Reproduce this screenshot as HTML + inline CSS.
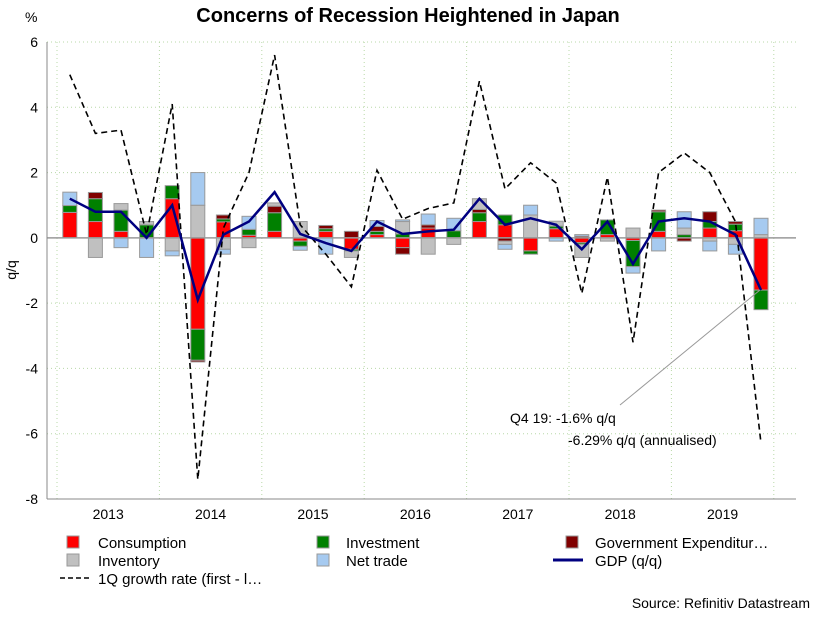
<!DOCTYPE html>
<html><head><meta charset="utf-8"><style>
body{margin:0;background:#fff;font-family:"Liberation Sans",sans-serif;}
svg text{font-family:"Liberation Sans",sans-serif;}
</style></head><body>
<svg id="chart" width="824" height="620" xmlns="http://www.w3.org/2000/svg">
<rect width="824" height="620" fill="#fff"/>
<text x="408" y="22" text-anchor="middle" font-size="20" font-weight="bold">Concerns of Recession Heightened in Japan</text>
<text x="25" y="22" font-size="14">%</text>
<text transform="translate(16,270) rotate(-90)" text-anchor="middle" font-size="14">q/q</text>
<g id="grid"></g><g id="bars"></g><g id="lines"></g><g id="axes"></g>
<line x1="760" y1="290" x2="620" y2="405" stroke="#999" stroke-width="1"/>
<text x="510" y="423" font-size="14">Q4 19: -1.6% q/q</text>
<text x="568" y="445" font-size="14">-6.29% q/q (annualised)</text>
<g>
<rect x="67" y="536" width="12" height="12" fill="#ff0000" stroke="#999"/><text x="98" y="548" font-size="15">Consumption</text>
<rect x="317" y="536" width="12" height="12" fill="#008000" stroke="#999"/><text x="346" y="548" font-size="15">Investment</text>
<rect x="566" y="536" width="12" height="12" fill="#800000" stroke="#999"/><text x="595" y="548" font-size="15">Government Expenditur…</text>
<rect x="67" y="554" width="12" height="12" fill="#c0c0c0" stroke="#999"/><text x="98" y="566" font-size="15">Inventory</text>
<rect x="317" y="554" width="12" height="12" fill="#a6caf0" stroke="#999"/><text x="346" y="566" font-size="15">Net trade</text>
<line x1="553" y1="560" x2="583" y2="560" stroke="#000080" stroke-width="3"/><text x="595" y="566" font-size="15">GDP (q/q)</text>
<line x1="60" y1="578" x2="90" y2="578" stroke="#000" stroke-width="1.5" stroke-dasharray="5,3"/><text x="98" y="584" font-size="15">1Q growth rate (first - l…</text>
</g>
<text x="810" y="608" text-anchor="end" font-size="14">Source: Refinitiv Datastream</text>
</svg>
<script>
const years=["2013","2014","2015","2016","2017","2018","2019"];
const yTicks=[6,4,2,0,-2,-4,-6,-8];
const consumption=[0.78,0.5,0.2,0,1.2,-2.8,0.49,0.08,0.2,-0.1,0.2,-0.35,0.1,-0.3,0.3,0,0.5,0.4,-0.4,0.28,-0.15,0.1,-0.08,0.2,0,0.3,0.22,-1.6];
const investment=[0.21,0.7,0.65,0.4,0.4,-0.95,0.09,0.18,0.57,-0.16,0.08,-0.05,0.1,0.12,0,0.22,0.27,0.3,-0.1,0.08,-0.05,0.45,-0.8,0.6,0.1,0.2,0.2,-0.6];
const government=[0,0.19,0,0,0,-0.05,0.12,0,0.2,0,0.1,0.2,0.15,-0.2,0.1,0,0.1,-0.1,0,0,0.05,0,0,0.05,-0.1,0.3,0.08,0];
const inventory=[0,-0.6,0.2,0.1,-0.4,1.0,-0.35,-0.3,0.1,0.5,0,-0.2,0,0.38,-0.5,-0.2,0.33,-0.1,0.7,0.15,-0.4,-0.1,0.3,0,0.2,-0.1,-0.2,0.1];
const netTrade=[0.41,0,-0.3,-0.6,-0.15,1.0,-0.15,0.4,0,-0.12,-0.5,0,0.18,0.05,0.33,0.38,0,-0.15,0.3,-0.1,0.05,0,-0.2,-0.4,0.5,-0.3,-0.3,0.5];
const gdp=[1.2,0.8,0.8,0,1.0,-1.9,0.1,0.5,1.4,0.12,-0.16,-0.4,0.5,0.12,0.2,0.25,1.2,0.4,0.6,0.4,-0.35,0.5,-0.8,0.5,0.6,0.5,0.1,-1.6];
const annualised=[5.0,3.2,3.3,0.1,4.1,-7.4,0.3,2.0,5.6,0.4,-0.5,-1.5,2.07,0.57,0.9,1.07,4.8,1.5,2.3,1.68,-1.7,1.86,-3.2,2.0,2.6,2.0,0.5,-6.29];
const NS="http://www.w3.org/2000/svg";
const X0=57,YW=102.4,Y0=42,Y1=499,L=47,R=796;
const x=i=>X0+YW/8+i*YW/4;
const y=v=>Y0+(6-v)*(Y1-Y0)/14;
function mk(tag,attrs,parent){const e=document.createElementNS(NS,tag);for(const k in attrs)e.setAttribute(k,attrs[k]);document.getElementById(parent).appendChild(e);return e;}
// grid
yTicks.forEach(t=>{
 if(t!==0){const g=mk('line',{x1:L,x2:R,y1:y(t),y2:y(t),stroke:'#b8d8a8','stroke-dasharray':'1,3'},'grid');
 
 }
 const tx=mk('text',{x:38,y:y(t)+5,'text-anchor':'end','font-size':14},'axes');tx.textContent=t;
 
 
});
for(let k=0;k<=7;k++){const g=mk('line',{x1:X0+k*YW,x2:X0+k*YW,y1:Y0,y2:Y1,stroke:'#b8d8a8','stroke-dasharray':'1,3'},'grid');
 
 }
years.forEach((yr,k)=>{const tx=mk('text',{x:X0+YW/2+k*YW,y:Y1+20,'text-anchor':'middle','font-size':14},'axes');tx.textContent=yr;
 
 });
const ax=mk('line',{x1:L,x2:L,y1:Y0,y2:Y1,stroke:'#888'},'axes');


const bx=mk('line',{x1:L,x2:R,y1:Y1,y2:Y1,stroke:'#888'},'axes');


// bars
const series=[[consumption,'#ff0000','consumption'],[investment,'#008000','investment'],[government,'#800000','government'],[inventory,'#c0c0c0','inventory'],[netTrade,'#a6caf0','net-trade']];
for(let i=0;i<gdp.length;i++){let pos=0,neg=0;
 series.forEach(([arr,col,nm])=>{const v=arr[i];if(!v)return;let a,b;
  if(v>0){a=pos;b=pos+v;pos=b;}else{a=neg;b=neg+v;neg=b;}
  const r=mk('rect',{x:x(i)-7,width:14,y:Math.min(y(a),y(b)),height:Math.abs(y(a)-y(b)),fill:col,stroke:'#999','stroke-width':1},'bars');
  
  });}
const z=mk('line',{x1:L,x2:R,y1:y(0),y2:y(0),stroke:'#999','stroke-width':1.5},'lines');


const d=mk('polyline',{points:annualised.map((v,i)=>x(i)+','+y(v)).join(' '),fill:'none',stroke:'#000','stroke-width':1.6,'stroke-dasharray':'6,4'},'lines');


const g=mk('polyline',{points:gdp.map((v,i)=>x(i)+','+y(v)).join(' '),fill:'none',stroke:'#000080','stroke-width':2.5},'lines');


</script>
</body></html>
